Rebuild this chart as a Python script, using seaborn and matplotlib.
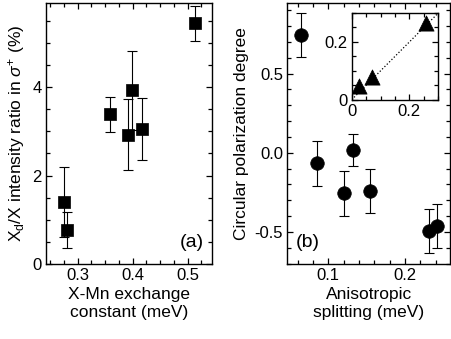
import matplotlib
matplotlib.use("Agg")
import matplotlib.pyplot as plt
import seaborn as sns
import numpy as np
import pandas as pd
from matplotlib.ticker import MultipleLocator, FixedLocator, FuncFormatter

# ---- data ----
exch_x = [0.275, 0.280, 0.359, 0.392, 0.398, 0.416, 0.513]
ratio_y = [1.41, 0.77, 3.38, 2.92, 3.93, 3.05, 5.44]
ratio_err = [0.79, 0.40, 0.40, 0.80, 0.89, 0.70, 0.40]

aniso_x = [0.0643, 0.0848, 0.1204, 0.1317, 0.154, 0.2313, 0.2413]
pol_y = [0.743, -0.067, -0.257, 0.017, -0.24, -0.494, -0.464]
pol_err = [0.14, 0.14, 0.14, 0.10, 0.14, 0.14, 0.14]

inset_x = [0.025, 0.072, 0.259]
inset_y = [0.048, 0.079, 0.265]
diag = [0.0, 0.3]

sns.set_theme(style="ticks")
plt.rcParams['font.family'] = ['Liberation Sans', 'DejaVu Sans']
plt.rcParams['mathtext.fontset'] = 'custom'
plt.rcParams['mathtext.rm'] = 'Liberation Sans'
plt.rcParams['mathtext.it'] = 'Liberation Sans:italic'
plt.rcParams['axes.unicode_minus'] = False
plt.rcParams['text.color'] = 'black'
plt.rcParams['axes.labelcolor'] = 'black'
plt.rcParams['xtick.color'] = 'black'
plt.rcParams['ytick.color'] = 'black'
plt.rcParams['xtick.labelcolor'] = 'black'
plt.rcParams['ytick.labelcolor'] = 'black'

fig = plt.figure(figsize=(4.52, 3.39), dpi=100)
ax1 = fig.add_axes([0.1011, 0.2212, 0.3673, 0.7699])
ax2 = fig.add_axes([0.6356, 0.2212, 0.3600, 0.7699])
axi = fig.add_axes([0.7781, 0.7059, 0.1916, 0.2558])

fs_tick = 12
fs_lab = 12.5

def style(ax, fs=fs_tick):
    for s in ax.spines.values():
        s.set_linewidth(1.0)
        s.set_color('black')
    ax.tick_params(which='both', direction='in', top=True, right=True,
                   colors='black', labelcolor='black', width=0.9,
                   labelsize=fs, pad=3)
    ax.tick_params(which='major', length=4.5)
    ax.tick_params(which='minor', length=3)
    ax.set_facecolor('white')

# ---- panel (a) ----
df1 = pd.DataFrame({'x': exch_x, 'y': ratio_y})
ax1.errorbar(exch_x, ratio_y, yerr=ratio_err, fmt='none', ecolor='black',
             elinewidth=0.8, capsize=3.5, capthick=0.8, zorder=2)
sns.scatterplot(data=df1, x='x', y='y', marker='s', s=85, color='black',
                edgecolor='black', linewidth=0.5, ax=ax1, zorder=3)
ax1.set_xlim(0.2418, 0.5436)
ax1.set_ylim(0, 5.9)
ax1.xaxis.set_major_locator(FixedLocator([0.3, 0.4, 0.5]))
ax1.xaxis.set_minor_locator(MultipleLocator(0.025))
ax1.yaxis.set_major_locator(FixedLocator([0, 2, 4]))
ax1.yaxis.set_minor_locator(MultipleLocator(0.5))
ax1.yaxis.set_major_formatter(FuncFormatter(lambda v, p: f"{v:g}"))
ax1.set_xlabel("X-Mn exchange\nconstant (meV)", fontsize=fs_lab, labelpad=3,
               color='black')
ax1.set_ylabel(r"X$_\mathregular{d}$/X intensity ratio in $\sigma^\mathregular{+}$ (%)",
               fontsize=fs_lab, labelpad=4, color='black')
ax1.text(0.95, 0.05, "(a)", transform=ax1.transAxes, ha='right', va='bottom',
         fontsize=14, color='black')
style(ax1)

# ---- panel (b) ----
df2 = pd.DataFrame({'x': aniso_x, 'y': pol_y})
ax2.errorbar(aniso_x, pol_y, yerr=pol_err, fmt='none', ecolor='black',
             elinewidth=0.8, capsize=3.5, capthick=0.8, zorder=2)
sns.scatterplot(data=df2, x='x', y='y', marker='o', s=95, color='black',
                edgecolor='black', linewidth=0.5, ax=ax2, zorder=3)
ax2.set_xlim(0.0465, 0.2587)
ax2.set_ylim(-0.703, 0.946)
ax2.xaxis.set_major_locator(FixedLocator([0.1, 0.2]))
ax2.xaxis.set_minor_locator(MultipleLocator(0.02))
ax2.yaxis.set_major_locator(FixedLocator([-0.5, 0.0, 0.5]))
ax2.yaxis.set_minor_locator(MultipleLocator(0.1))
ax2.yaxis.set_major_formatter(FuncFormatter(lambda v, p: f"{v:.1f}"))
ax2.set_xlabel("Anisotropic\nsplitting (meV)", fontsize=fs_lab, labelpad=3,
               color='black')
ax2.set_ylabel("Circular polarization degree", fontsize=fs_lab, labelpad=4,
               color='black')
ax2.text(0.05, 0.05, "(b)", transform=ax2.transAxes, ha='left', va='bottom',
         fontsize=14, color='black')
style(ax2)

# ---- inset ----
sns.lineplot(x=diag, y=diag, ax=axi, color='black', linestyle=':', linewidth=0.9,
             zorder=2)
dfi = pd.DataFrame({'x': inset_x, 'y': inset_y})
sns.scatterplot(data=dfi, x='x', y='y', marker='^', s=120, color='black',
                edgecolor='black', linewidth=0.5, ax=axi, zorder=3)
axi.set_xlim(0, 0.3)
axi.set_ylim(0, 0.3)
axi.xaxis.set_major_locator(FixedLocator([0, 0.2]))
axi.yaxis.set_major_locator(FixedLocator([0, 0.2]))
axi.xaxis.set_minor_locator(MultipleLocator(0.05))
axi.yaxis.set_minor_locator(MultipleLocator(0.05))
fmt = FuncFormatter(lambda v, p: "0" if abs(v) < 1e-9 else f"{v:.1f}")
axi.xaxis.set_major_formatter(fmt)
axi.yaxis.set_major_formatter(fmt)
axi.set_xlabel("")
axi.set_ylabel("")
style(axi)

fig.savefig("out.png", dpi=100)
